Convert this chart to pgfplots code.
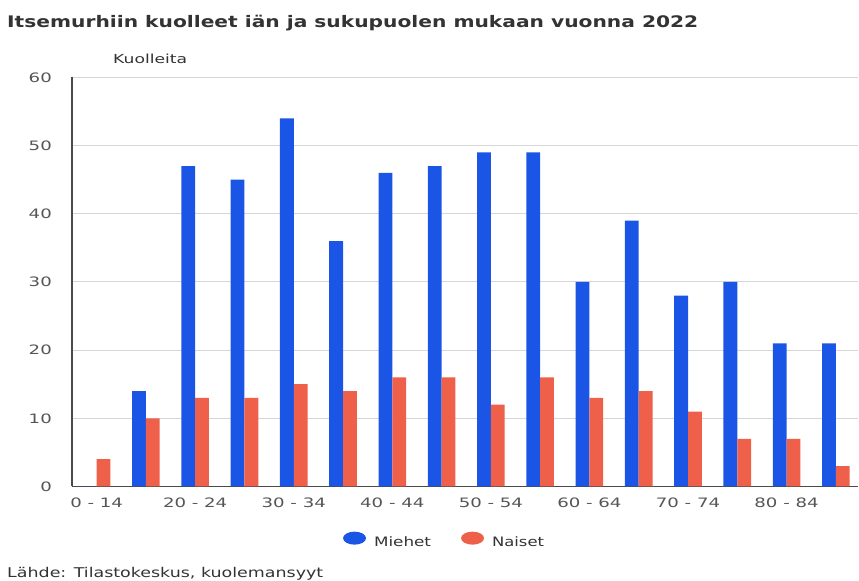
\documentclass[border=0pt]{standalone}
\usepackage{pgfplots}
\pgfplotsset{compat=1.18}
\usepackage{fontspec}
\setmainfont{DejaVu Sans}
\usepackage{graphicx}
\definecolor{mblue}{HTML}{1B55E6}
\definecolor{nred}{HTML}{EE6049}
\definecolor{txt}{HTML}{333333}
\definecolor{tickc}{HTML}{555555}
\definecolor{gridc}{HTML}{D6D6D6}
\definecolor{axisc}{HTML}{4A4A4A}
\newcommand\sx[1]{\scalebox{1.4}[1]{#1}}
\begin{document}
\begin{tikzpicture}[x=1bp,y=1bp]
\path[use as bounding box] (0,0) rectangle (859,581);
\begin{axis}[
  at={(72bp,94.5bp)}, anchor=south west,
  scale only axis, width=786bp, height=409bp,
  xmin=-0.5, xmax=15.45, ymin=0, ymax=60,
  ytick={0,10,20,30,40,50,60},
  yticklabels={\sx{0},\sx{10},\sx{20},\sx{30},\sx{40},\sx{50},\sx{60}},
  xtick={0,2,4,6,8,10,12,14},
  xticklabels={\sx{0 - 14},\sx{20 - 24},\sx{30 - 34},\sx{40 - 44},\sx{50 - 54},\sx{60 - 64},\sx{70 - 74},\sx{80 - 84}},
  axis x line*=bottom, axis y line*=left,
  axis line style={draw=axisc, line width=1.3bp, -},
  ymajorgrids, grid style={draw=gridc, line width=1bp},
  major tick length=0pt,
  every tick label/.append style={font=\fontsize{13}{15}\selectfont, text=tickc},
  xticklabel style={inner sep=0pt, anchor=north, yshift=-11.5bp},
  yticklabel style={inner sep=0pt, anchor=east, xshift=-20bp},
  ybar, bar width=0.28,
  legend columns=2,
  legend style={at={(0.4727,-0.1308)}, anchor=center, draw=none, fill=none,
    inner sep=0pt, nodes={inner sep=0pt, text=txt, font=\fontsize{13}{15}\selectfont},
    /tikz/every odd column/.append style={column sep=8bp},
    /tikz/every even column/.append style={column sep=30bp}},
]
\addplot[fill=mblue, draw=none, bar shift=-0.14,
  legend image code/.code={\fill[mblue] (11.5bp,4.5bp) ellipse [x radius=11.5bp, y radius=6.5bp];}]
  coordinates {(0,0) (1,14) (2,47) (3,45) (4,54) (5,36) (6,46) (7,47) (8,49) (9,49) (10,30) (11,39) (12,28) (13,30) (14,21) (15,21)};
\addlegendentry{\resizebox{57bp}{\height}{Miehet}}
\addplot[fill=nred, draw=none, bar shift=0.14,
  legend image code/.code={\fill[nred] (11.5bp,4.5bp) ellipse [x radius=11.5bp, y radius=6.5bp];}]
  coordinates {(0,4) (1,10) (2,13) (3,13) (4,15) (5,14) (6,16) (7,16) (8,12) (9,16) (10,13) (11,14) (12,11) (13,7) (14,7) (15,3)};
\addlegendentry{\resizebox{52bp}{\height}{Naiset}}
\end{axis}
\node[anchor=base west, inner sep=0pt, text=txt] at (7,553.7)
  {\resizebox{691bp}{\height}{\fontsize{16}{19}\selectfont\bfseries Itsemurhiin kuolleet iän ja sukupuolen mukaan vuonna 2022}};
\node[anchor=base west, inner sep=0pt, text=txt] at (113,517.7)
  {\resizebox{74bp}{\height}{\fontsize{12.5}{15}\selectfont Kuolleita}};
\node[anchor=base west, inner sep=0pt, text=txt] at (7,3)
  {\resizebox{316bp}{\height}{\fontsize{13.5}{16}\selectfont Lähde: Tilastokeskus, kuolemansyyt}};
\end{tikzpicture}
\end{document}
